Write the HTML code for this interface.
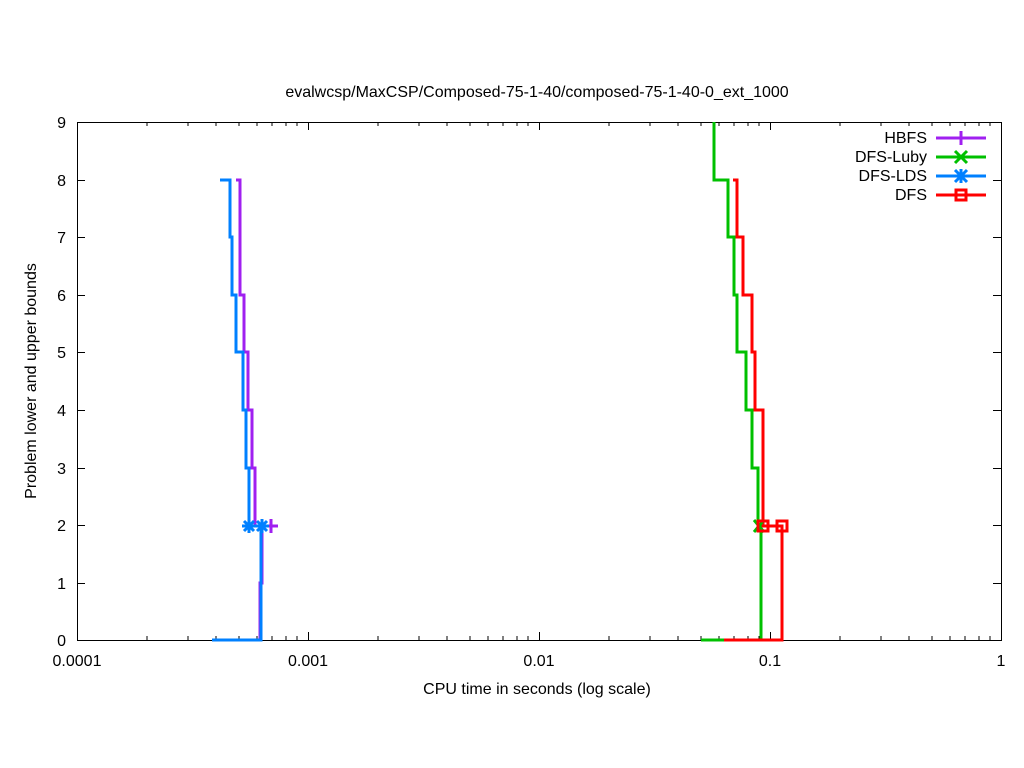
<!DOCTYPE html>
<html><head><style>body{margin:0;background:#fff}svg{display:block}text{font-family:"Liberation Sans",sans-serif;font-size:16px;fill:#000}</style></head><body>
<svg width="1024" height="768" xmlns="http://www.w3.org/2000/svg">
<rect width="1024" height="768" fill="#fff"/>
<text x="537" y="97" text-anchor="middle">evalwcsp/MaxCSP/Composed-75-1-40/composed-75-1-40-0_ext_1000</text>
<g stroke="#000" stroke-width="1" fill="none">
<rect x="77.5" y="122.5" width="924" height="518"/>
<path d="M77 583.5h8M1001 583.5h-8M77 525.5h8M1001 525.5h-8M77 468.5h8M1001 468.5h-8M77 410.5h8M1001 410.5h-8M77 352.5h8M1001 352.5h-8M77 295.5h8M1001 295.5h-8M77 237.5h8M1001 237.5h-8M77 180.5h8M1001 180.5h-8"/>
<path d="M308.5 640v-8M308.5 122v8M539.5 640v-8M539.5 122v8M770.5 640v-8M770.5 122v8"/>
<path d="M147 640v-4M188 640v-4M216 640v-4M239 640v-4M257 640v-4M272 640v-4M286 640v-4M297 640v-4M147 122v4M188 122v4M216 122v4M239 122v4M257 122v4M272 122v4M286 122v4M297 122v4
M378 640v-4M419 640v-4M447 640v-4M470 640v-4M488 640v-4M503 640v-4M517 640v-4M528 640v-4M378 122v4M419 122v4M447 122v4M470 122v4M488 122v4M503 122v4M517 122v4M528 122v4
M609 640v-4M650 640v-4M678 640v-4M701 640v-4M719 640v-4M734 640v-4M748 640v-4M759 640v-4M609 122v4M650 122v4M678 122v4M701 122v4M719 122v4M734 122v4M748 122v4M759 122v4
M840 640v-4M881 640v-4M909 640v-4M932 640v-4M950 640v-4M965 640v-4M979 640v-4M990 640v-4M840 122v4M881 122v4M909 122v4M932 122v4M950 122v4M965 122v4M979 122v4M990 122v4"/>
</g>
<g text-anchor="end">
<text x="66" y="646">0</text><text x="66" y="589">1</text><text x="66" y="531">2</text><text x="66" y="474">3</text><text x="66" y="416">4</text><text x="66" y="358">5</text><text x="66" y="301">6</text><text x="66" y="243">7</text><text x="66" y="186">8</text><text x="66" y="128">9</text>
</g>
<g text-anchor="middle">
<text x="77" y="666">0.0001</text><text x="308" y="666">0.001</text><text x="539" y="666">0.01</text><text x="770" y="666">0.1</text><text x="1001" y="666">1</text>
<text x="537" y="694">CPU time in seconds (log scale)</text>
</g>
<text transform="translate(36,381) rotate(-90)" text-anchor="middle">Problem lower and upper bounds</text>
<g fill="none" stroke-width="3">
<path stroke="#a020f0" d="M236 180H240V295H244V352H248V410H252V468H255V526H272M262 526V583H260V640H230"/>
<path stroke="#0080ff" d="M220 180H230V237H232V295H236V352H243V410H246V468H249V526H262M261 526V640H212"/>
<path stroke="#00c000" d="M714 122V180H728V237H734V295H737V352H746V410H752V468H758V526H761V640H701"/>
<path stroke="#ff0000" d="M733 180H737V237H743V295H752V352H755V410H763V526H782V640H724"/>
</g>
<g stroke-width="3" fill="none">
<path stroke="#a020f0" d="M264 526h14M271 519v14"/>
<path stroke="#0080ff" d="M242 526h14M249 519v14M244 521l10 10M244 531l10-10M255 526h14M262 519v14M257 521l10 10M257 531l10-10"/>
<path stroke="#00c000" d="M754 520l10 12M754 532l10-12"/>
<rect stroke="#ff0000" x="758" y="521" width="10" height="10"/><rect stroke="#ff0000" x="777" y="521" width="10" height="10"/>
</g>
<g text-anchor="end">
<text x="927" y="143">HBFS</text><text x="927" y="162">DFS-Luby</text><text x="927" y="181">DFS-LDS</text><text x="927" y="200">DFS</text>
</g>
<g fill="none" stroke-width="3">
<path stroke="#a020f0" d="M936 138h50"/><path stroke="#00c000" d="M936 157h50"/><path stroke="#0080ff" d="M936 176h50"/><path stroke="#ff0000" d="M936 195h50"/>
</g>
<g fill="none" stroke-width="3">
<path stroke="#a020f0" d="M961 131v14"/>
<path stroke="#00c000" d="M955 151l12 12M955 163l12-12"/>
<path stroke="#0080ff" d="M961 169v14M955 170l12 12M955 182l12-12"/>
<rect stroke="#ff0000" x="956" y="190" width="10" height="10"/>
</g>
</svg>
</body></html>
